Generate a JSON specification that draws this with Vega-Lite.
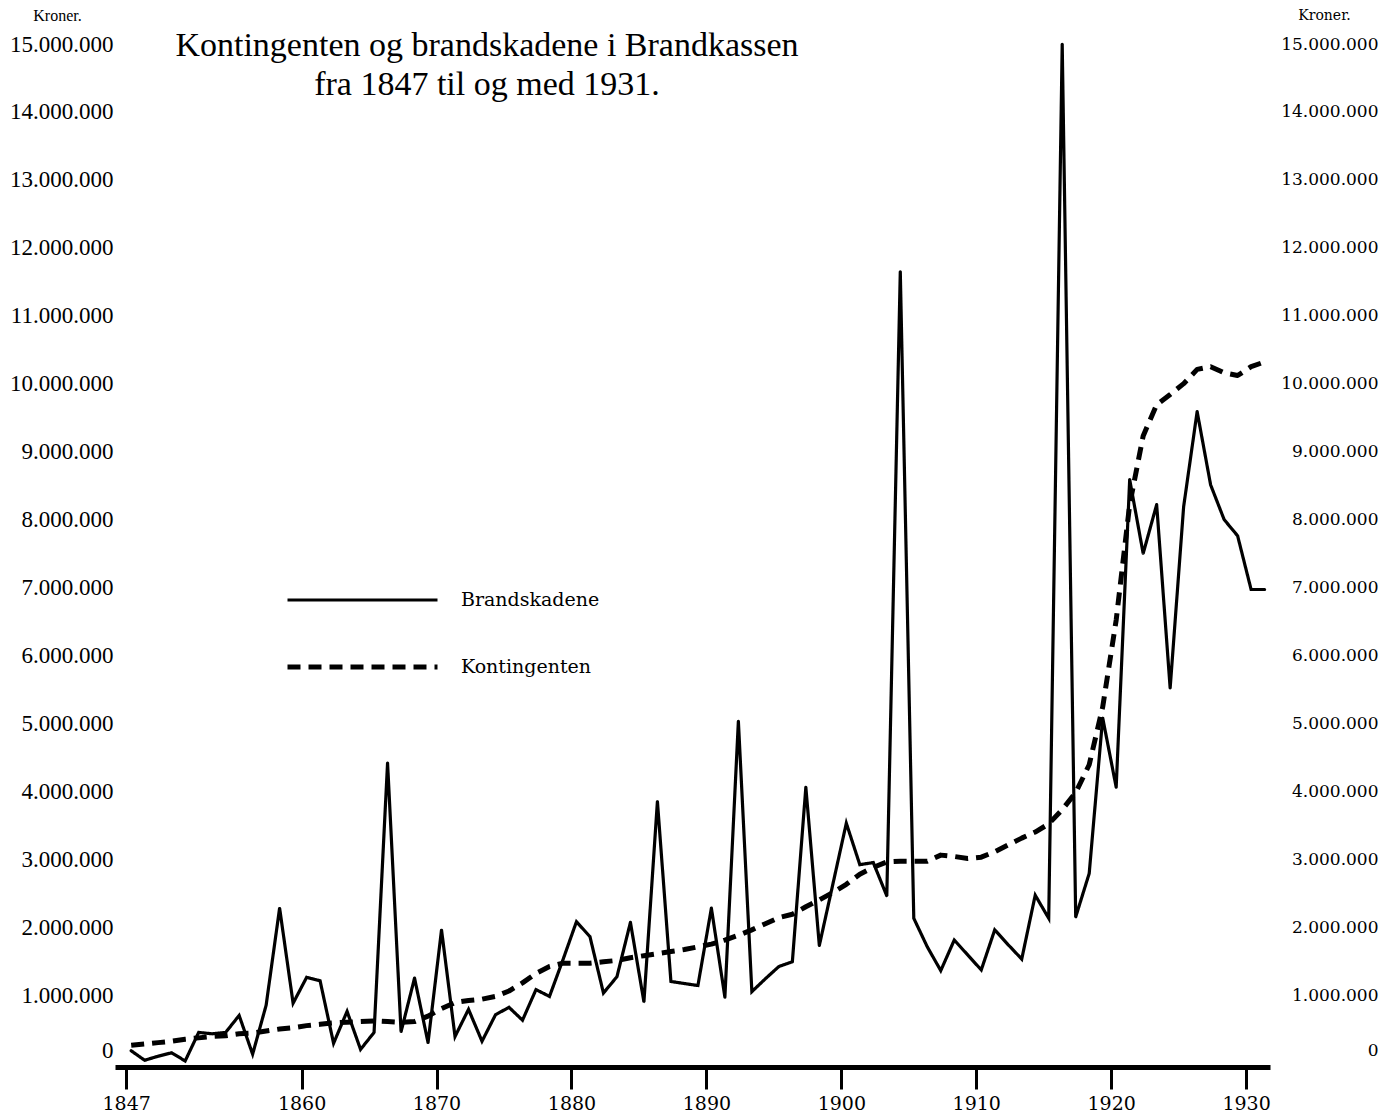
{
  "$schema": "https://vega.github.io/schema/vega-lite/v6.json",
  "width": 1155,
  "height": 1019,
  "autosize": "none",
  "padding": {"left": 115, "top": 44, "right": 125, "bottom": 57},
  "background": "white",
  "config": {
    "view": {"stroke": null},
    "locale": {"number": {"decimal": ",", "thousands": ".", "grouping": [3], "currency": ["", " kr"]}}
  },
  "title": {
    "text": ["Kontingenten og brandskadene i Brandkassen", "fra 1847 til og med 1931."],
    "font": "Liberation Serif",
    "fontSize": 34,
    "fontWeight": "normal",
    "lineHeight": 39,
    "color": "black",
    "anchor": "start",
    "frame": "group",
    "align": "center",
    "dx": 372,
    "offset": -95
  },
  "data": {
    "values": [
      {"year": 1847, "serie": "Brandskadene", "kroner": 180000},
      {"year": 1848, "serie": "Brandskadene", "kroner": 40000},
      {"year": 1849, "serie": "Brandskadene", "kroner": 100000},
      {"year": 1850, "serie": "Brandskadene", "kroner": 150000},
      {"year": 1851, "serie": "Brandskadene", "kroner": 30000},
      {"year": 1852, "serie": "Brandskadene", "kroner": 450000},
      {"year": 1853, "serie": "Brandskadene", "kroner": 430000},
      {"year": 1854, "serie": "Brandskadene", "kroner": 450000},
      {"year": 1855, "serie": "Brandskadene", "kroner": 700000},
      {"year": 1856, "serie": "Brandskadene", "kroner": 130000},
      {"year": 1857, "serie": "Brandskadene", "kroner": 850000},
      {"year": 1858, "serie": "Brandskadene", "kroner": 2280000},
      {"year": 1859, "serie": "Brandskadene", "kroner": 880000},
      {"year": 1860, "serie": "Brandskadene", "kroner": 1260000},
      {"year": 1861, "serie": "Brandskadene", "kroner": 1210000},
      {"year": 1862, "serie": "Brandskadene", "kroner": 290000},
      {"year": 1863, "serie": "Brandskadene", "kroner": 760000},
      {"year": 1864, "serie": "Brandskadene", "kroner": 200000},
      {"year": 1865, "serie": "Brandskadene", "kroner": 450000},
      {"year": 1866, "serie": "Brandskadene", "kroner": 4420000},
      {"year": 1867, "serie": "Brandskadene", "kroner": 460000},
      {"year": 1868, "serie": "Brandskadene", "kroner": 1250000},
      {"year": 1869, "serie": "Brandskadene", "kroner": 300000},
      {"year": 1870, "serie": "Brandskadene", "kroner": 1960000},
      {"year": 1871, "serie": "Brandskadene", "kroner": 390000},
      {"year": 1872, "serie": "Brandskadene", "kroner": 790000},
      {"year": 1873, "serie": "Brandskadene", "kroner": 320000},
      {"year": 1874, "serie": "Brandskadene", "kroner": 710000},
      {"year": 1875, "serie": "Brandskadene", "kroner": 820000},
      {"year": 1876, "serie": "Brandskadene", "kroner": 630000},
      {"year": 1877, "serie": "Brandskadene", "kroner": 1080000},
      {"year": 1878, "serie": "Brandskadene", "kroner": 980000},
      {"year": 1879, "serie": "Brandskadene", "kroner": 1520000},
      {"year": 1880, "serie": "Brandskadene", "kroner": 2080000},
      {"year": 1881, "serie": "Brandskadene", "kroner": 1860000},
      {"year": 1882, "serie": "Brandskadene", "kroner": 1030000},
      {"year": 1883, "serie": "Brandskadene", "kroner": 1270000},
      {"year": 1884, "serie": "Brandskadene", "kroner": 2070000},
      {"year": 1885, "serie": "Brandskadene", "kroner": 900000},
      {"year": 1886, "serie": "Brandskadene", "kroner": 3850000},
      {"year": 1887, "serie": "Brandskadene", "kroner": 1200000},
      {"year": 1888, "serie": "Brandskadene", "kroner": 1170000},
      {"year": 1889, "serie": "Brandskadene", "kroner": 1140000},
      {"year": 1890, "serie": "Brandskadene", "kroner": 2280000},
      {"year": 1891, "serie": "Brandskadene", "kroner": 970000},
      {"year": 1892, "serie": "Brandskadene", "kroner": 5030000},
      {"year": 1893, "serie": "Brandskadene", "kroner": 1050000},
      {"year": 1894, "serie": "Brandskadene", "kroner": 1240000},
      {"year": 1895, "serie": "Brandskadene", "kroner": 1420000},
      {"year": 1896, "serie": "Brandskadene", "kroner": 1490000},
      {"year": 1897, "serie": "Brandskadene", "kroner": 4060000},
      {"year": 1898, "serie": "Brandskadene", "kroner": 1730000},
      {"year": 1899, "serie": "Brandskadene", "kroner": 2630000},
      {"year": 1900, "serie": "Brandskadene", "kroner": 3530000},
      {"year": 1901, "serie": "Brandskadene", "kroner": 2920000},
      {"year": 1902, "serie": "Brandskadene", "kroner": 2950000},
      {"year": 1903, "serie": "Brandskadene", "kroner": 2460000},
      {"year": 1904, "serie": "Brandskadene", "kroner": 11650000},
      {"year": 1905, "serie": "Brandskadene", "kroner": 2130000},
      {"year": 1906, "serie": "Brandskadene", "kroner": 1710000},
      {"year": 1907, "serie": "Brandskadene", "kroner": 1360000},
      {"year": 1908, "serie": "Brandskadene", "kroner": 1810000},
      {"year": 1909, "serie": "Brandskadene", "kroner": 1590000},
      {"year": 1910, "serie": "Brandskadene", "kroner": 1370000},
      {"year": 1911, "serie": "Brandskadene", "kroner": 1960000},
      {"year": 1912, "serie": "Brandskadene", "kroner": 1740000},
      {"year": 1913, "serie": "Brandskadene", "kroner": 1530000},
      {"year": 1914, "serie": "Brandskadene", "kroner": 2470000},
      {"year": 1915, "serie": "Brandskadene", "kroner": 2130000},
      {"year": 1916, "serie": "Brandskadene", "kroner": 15000000},
      {"year": 1917, "serie": "Brandskadene", "kroner": 2150000},
      {"year": 1918, "serie": "Brandskadene", "kroner": 2790000},
      {"year": 1919, "serie": "Brandskadene", "kroner": 5080000},
      {"year": 1920, "serie": "Brandskadene", "kroner": 4060000},
      {"year": 1921, "serie": "Brandskadene", "kroner": 8590000},
      {"year": 1922, "serie": "Brandskadene", "kroner": 7500000},
      {"year": 1923, "serie": "Brandskadene", "kroner": 8220000},
      {"year": 1924, "serie": "Brandskadene", "kroner": 5520000},
      {"year": 1925, "serie": "Brandskadene", "kroner": 8190000},
      {"year": 1926, "serie": "Brandskadene", "kroner": 9590000},
      {"year": 1927, "serie": "Brandskadene", "kroner": 8510000},
      {"year": 1928, "serie": "Brandskadene", "kroner": 8000000},
      {"year": 1929, "serie": "Brandskadene", "kroner": 7760000},
      {"year": 1930, "serie": "Brandskadene", "kroner": 6970000},
      {"year": 1931, "serie": "Brandskadene", "kroner": 6970000},
      {"year": 1847, "serie": "Kontingenten", "kroner": 260000},
      {"year": 1848, "serie": "Kontingenten", "kroner": 280000},
      {"year": 1849, "serie": "Kontingenten", "kroner": 300000},
      {"year": 1850, "serie": "Kontingenten", "kroner": 320000},
      {"year": 1851, "serie": "Kontingenten", "kroner": 350000},
      {"year": 1852, "serie": "Kontingenten", "kroner": 370000},
      {"year": 1853, "serie": "Kontingenten", "kroner": 390000},
      {"year": 1854, "serie": "Kontingenten", "kroner": 400000},
      {"year": 1855, "serie": "Kontingenten", "kroner": 430000},
      {"year": 1856, "serie": "Kontingenten", "kroner": 440000},
      {"year": 1857, "serie": "Kontingenten", "kroner": 470000},
      {"year": 1858, "serie": "Kontingenten", "kroner": 500000},
      {"year": 1859, "serie": "Kontingenten", "kroner": 520000},
      {"year": 1860, "serie": "Kontingenten", "kroner": 550000},
      {"year": 1861, "serie": "Kontingenten", "kroner": 570000},
      {"year": 1862, "serie": "Kontingenten", "kroner": 590000},
      {"year": 1863, "serie": "Kontingenten", "kroner": 600000},
      {"year": 1864, "serie": "Kontingenten", "kroner": 610000},
      {"year": 1865, "serie": "Kontingenten", "kroner": 620000},
      {"year": 1866, "serie": "Kontingenten", "kroner": 610000},
      {"year": 1867, "serie": "Kontingenten", "kroner": 600000},
      {"year": 1868, "serie": "Kontingenten", "kroner": 610000},
      {"year": 1869, "serie": "Kontingenten", "kroner": 690000},
      {"year": 1870, "serie": "Kontingenten", "kroner": 800000},
      {"year": 1871, "serie": "Kontingenten", "kroner": 890000},
      {"year": 1872, "serie": "Kontingenten", "kroner": 920000},
      {"year": 1873, "serie": "Kontingenten", "kroner": 940000},
      {"year": 1874, "serie": "Kontingenten", "kroner": 980000},
      {"year": 1875, "serie": "Kontingenten", "kroner": 1060000},
      {"year": 1876, "serie": "Kontingenten", "kroner": 1180000},
      {"year": 1877, "serie": "Kontingenten", "kroner": 1320000},
      {"year": 1878, "serie": "Kontingenten", "kroner": 1420000},
      {"year": 1879, "serie": "Kontingenten", "kroner": 1470000},
      {"year": 1880, "serie": "Kontingenten", "kroner": 1470000},
      {"year": 1881, "serie": "Kontingenten", "kroner": 1470000},
      {"year": 1882, "serie": "Kontingenten", "kroner": 1490000},
      {"year": 1883, "serie": "Kontingenten", "kroner": 1510000},
      {"year": 1884, "serie": "Kontingenten", "kroner": 1550000},
      {"year": 1885, "serie": "Kontingenten", "kroner": 1580000},
      {"year": 1886, "serie": "Kontingenten", "kroner": 1610000},
      {"year": 1887, "serie": "Kontingenten", "kroner": 1640000},
      {"year": 1888, "serie": "Kontingenten", "kroner": 1670000},
      {"year": 1889, "serie": "Kontingenten", "kroner": 1710000},
      {"year": 1890, "serie": "Kontingenten", "kroner": 1750000},
      {"year": 1891, "serie": "Kontingenten", "kroner": 1810000},
      {"year": 1892, "serie": "Kontingenten", "kroner": 1880000},
      {"year": 1893, "serie": "Kontingenten", "kroner": 1960000},
      {"year": 1894, "serie": "Kontingenten", "kroner": 2050000},
      {"year": 1895, "serie": "Kontingenten", "kroner": 2140000},
      {"year": 1896, "serie": "Kontingenten", "kroner": 2190000},
      {"year": 1897, "serie": "Kontingenten", "kroner": 2300000},
      {"year": 1898, "serie": "Kontingenten", "kroner": 2400000},
      {"year": 1899, "serie": "Kontingenten", "kroner": 2510000},
      {"year": 1900, "serie": "Kontingenten", "kroner": 2630000},
      {"year": 1901, "serie": "Kontingenten", "kroner": 2780000},
      {"year": 1902, "serie": "Kontingenten", "kroner": 2880000},
      {"year": 1903, "serie": "Kontingenten", "kroner": 2960000},
      {"year": 1904, "serie": "Kontingenten", "kroner": 2970000},
      {"year": 1905, "serie": "Kontingenten", "kroner": 2970000},
      {"year": 1906, "serie": "Kontingenten", "kroner": 2970000},
      {"year": 1907, "serie": "Kontingenten", "kroner": 3060000},
      {"year": 1908, "serie": "Kontingenten", "kroner": 3040000},
      {"year": 1909, "serie": "Kontingenten", "kroner": 3010000},
      {"year": 1910, "serie": "Kontingenten", "kroner": 3030000},
      {"year": 1911, "serie": "Kontingenten", "kroner": 3110000},
      {"year": 1912, "serie": "Kontingenten", "kroner": 3210000},
      {"year": 1913, "serie": "Kontingenten", "kroner": 3310000},
      {"year": 1914, "serie": "Kontingenten", "kroner": 3400000},
      {"year": 1915, "serie": "Kontingenten", "kroner": 3520000},
      {"year": 1916, "serie": "Kontingenten", "kroner": 3730000},
      {"year": 1917, "serie": "Kontingenten", "kroner": 3980000},
      {"year": 1918, "serie": "Kontingenten", "kroner": 4390000},
      {"year": 1919, "serie": "Kontingenten", "kroner": 5240000},
      {"year": 1920, "serie": "Kontingenten", "kroner": 6520000},
      {"year": 1921, "serie": "Kontingenten", "kroner": 8220000},
      {"year": 1922, "serie": "Kontingenten", "kroner": 9230000},
      {"year": 1923, "serie": "Kontingenten", "kroner": 9690000},
      {"year": 1924, "serie": "Kontingenten", "kroner": 9840000},
      {"year": 1925, "serie": "Kontingenten", "kroner": 10000000},
      {"year": 1926, "serie": "Kontingenten", "kroner": 10210000},
      {"year": 1927, "serie": "Kontingenten", "kroner": 10250000},
      {"year": 1928, "serie": "Kontingenten", "kroner": 10160000},
      {"year": 1929, "serie": "Kontingenten", "kroner": 10120000},
      {"year": 1930, "serie": "Kontingenten", "kroner": 10250000},
      {"year": 1931, "serie": "Kontingenten", "kroner": 10320000}
    ]
  },
  "encoding": {
    "x": {
      "field": "year",
      "type": "quantitative",
      "scale": {"domain": [1845.8, 1931.4], "nice": false, "zero": false},
      "axis": {
        "title": null,
        "values": [1847, 1860, 1870, 1880, 1890, 1900, 1910, 1920, 1930],
        "format": "d",
        "grid": false,
        "domainColor": "black",
        "domainWidth": 5,
        "tickColor": "black",
        "tickWidth": 3,
        "tickSize": 22,
        "tickOffset": -5,
        "offset": 4,
        "labelFont": "DejaVu Serif",
        "labelFontSize": 19,
        "labelColor": "black",
        "labelPadding": 5,
        "labelFlush": false,
        "labelOverlap": false
      }
    },
    "strokeDash": {
      "field": "serie",
      "type": "nominal",
      "scale": {"domain": ["Brandskadene", "Kontingenten"], "range": [[1, 0], [13, 8]]},
      "legend": {
        "title": null,
        "orient": "none",
        "legendX": 170,
        "legendY": 546,
        "padding": 0,
        "symbolType": "stroke",
        "symbolSize": 22500,
        "symbolStrokeColor": "black",
        "clipHeight": 20,
        "rowPadding": 47,
        "labelOffset": 21,
        "labelFont": "DejaVu Serif",
        "labelFontSize": 19,
        "labelColor": "black"
      }
    },
    "strokeWidth": {
      "field": "serie",
      "type": "nominal",
      "scale": {"type": "ordinal", "domain": ["Brandskadene", "Kontingenten"], "range": [3.2, 5]},
      "legend": {
        "title": null,
        "orient": "none",
        "legendX": 170,
        "legendY": 546,
        "padding": 0,
        "symbolType": "stroke",
        "symbolSize": 22500,
        "symbolStrokeColor": "black",
        "clipHeight": 20,
        "rowPadding": 47,
        "labelOffset": 21,
        "labelFont": "DejaVu Serif",
        "labelFontSize": 19,
        "labelColor": "black"
      }
    }
  },
  "layer": [
    {
      "transform": [{"filter": "datum.serie === 'Brandskadene'"}],
      "mark": {"type": "line", "color": "black", "strokeCap": "round", "strokeJoin": "miter"},
      "encoding": {
        "y": {
          "field": "kroner",
          "type": "quantitative",
          "scale": {"domain": [0, 15000000], "nice": false},
          "axis": {
            "orient": "left",
            "title": "Kroner.",
            "titleAngle": 0,
            "titleX": -58,
            "titleY": -29,
            "titleAlign": "center",
            "titleBaseline": "middle",
            "titleFont": "Liberation Serif",
            "titleFontSize": 16,
            "titleFontWeight": "normal",
            "titleColor": "black",
            "values": [0, 1000000, 2000000, 3000000, 4000000, 5000000, 6000000, 7000000, 8000000, 9000000, 10000000, 11000000, 12000000, 13000000, 14000000, 15000000],
            "format": ",d",
            "grid": false,
            "domain": false,
            "ticks": false,
            "labelFont": "Liberation Serif",
            "labelFontSize": 23,
            "labelColor": "black",
            "labelPadding": 2,
            "labelFlush": false,
            "labelOverlap": false,
            "labelOffset": {"condition": {"test": "datum.value === 0", "value": -13}, "value": 0}
          }
        }
      }
    },
    {
      "transform": [{"filter": "datum.serie === 'Kontingenten'"}],
      "mark": {"type": "line", "color": "black", "strokeCap": "butt", "strokeJoin": "round"},
      "encoding": {
        "y": {
          "field": "kroner",
          "type": "quantitative",
          "scale": {"domain": [0, 15000000], "nice": false},
          "axis": {
            "orient": "right",
            "title": "Kroner.",
            "titleAngle": 0,
            "titleX": 54,
            "titleY": -29,
            "titleAlign": "center",
            "titleBaseline": "middle",
            "titleFont": "DejaVu Serif",
            "titleFontSize": 14,
            "titleFontWeight": "normal",
            "titleColor": "black",
            "values": [0, 1000000, 2000000, 3000000, 4000000, 5000000, 6000000, 7000000, 8000000, 9000000, 10000000, 11000000, 12000000, 13000000, 14000000, 15000000],
            "format": ",d",
            "grid": false,
            "domain": false,
            "ticks": false,
            "labelFont": "DejaVu Serif",
            "labelFontSize": 17,
            "labelColor": "black",
            "labelAlign": "right",
            "labelPadding": 108,
            "labelFlush": false,
            "labelOverlap": false,
            "labelOffset": {"condition": {"test": "datum.value === 0", "value": -13}, "value": 0}
          }
        }
      }
    }
  ],
  "resolve": {"scale": {"y": "shared"}, "axis": {"y": "independent"}}
}
